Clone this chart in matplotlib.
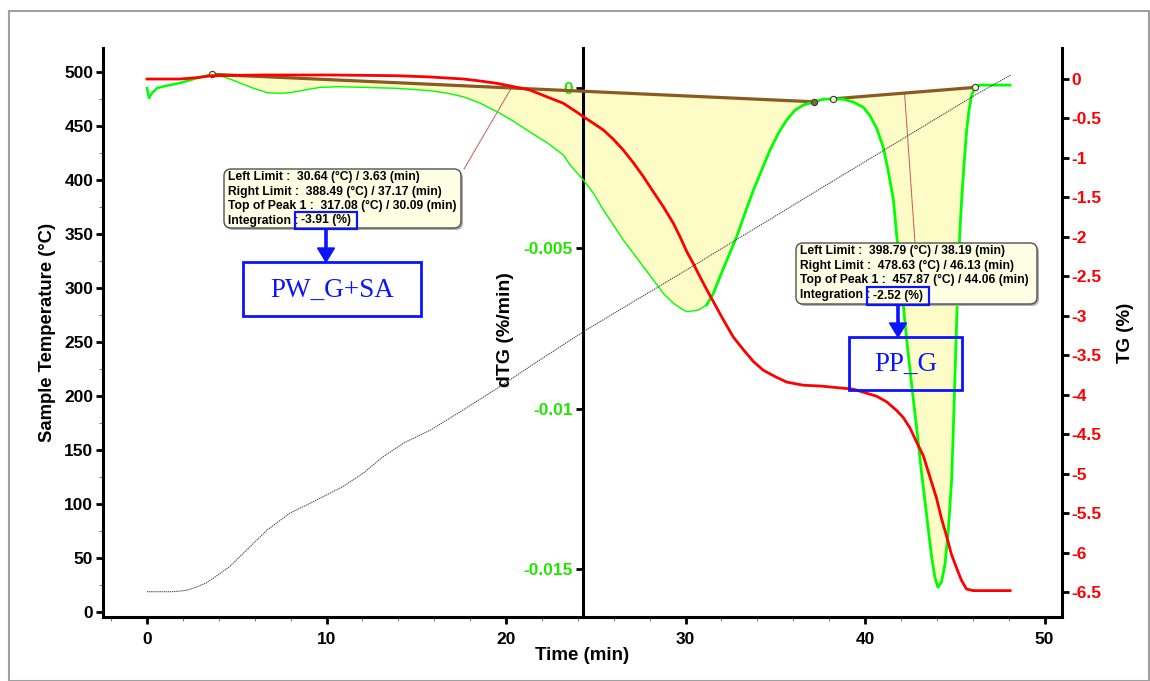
import matplotlib.pyplot as plt
import numpy as np
from matplotlib.patches import Rectangle, FancyBboxPatch, FancyArrow
from matplotlib.ticker import MultipleLocator, FuncFormatter

plt.rcParams['font.family'] = ['Liberation Sans', 'DejaVu Sans']
plt.rcParams['font.weight'] = 'bold'

# ---- data ----
time_temp = [0, 1.45, 2.2, 2.8, 3.3, 3.63, 4.1, 4.6, 5.55, 6.7, 7.97, 9.45, 10.9,
             12.05, 13.15, 14.3, 15.8, 17.6, 19.5, 21.3, 24.3, 30.09, 37.17, 38.19,
             44.06, 46.13, 48.1]
temp = [18.8, 18.8, 20, 23.4, 27, 30.64, 36, 42, 57.4, 76, 91.6, 103.7, 116,
        128.6, 143.8, 156.5, 168.5, 187, 207, 227, 259.5, 317.08, 388.49, 398.79,
        457.87, 478.63, 497]

time_tg = [0, 1.84, 2.77, 3.6, 6.48, 10.2, 13.9, 15.77, 17.63, 18.55, 19.48, 20.4,
           21.33, 22.26, 23.18, 23.92, 24.31, 24.87, 25.42, 25.98, 26.53, 27.09,
           27.65, 28.2, 28.76, 29.32, 29.69, 30.07, 30.43, 30.81, 31.18, 31.64, 32.1,
           32.66, 33.22, 33.78, 34.33, 34.98, 35.63, 36.56, 37.49, 39.35, 40.65,
           41.2, 41.76, 42.13, 42.5, 42.87, 43.24, 43.61, 43.98, 44.26, 44.54, 44.81,
           45.09, 45.37, 45.65, 46.02, 48.08]
tg = [-0.004, -0.004, 0.013, 0.038, 0.047, 0.047, 0.038, 0.022, -0.004, -0.029,
      -0.058, -0.10, -0.143, -0.228, -0.31, -0.42, -0.481, -0.565, -0.649, -0.767,
      -0.903, -1.063, -1.24, -1.43, -1.62, -1.83, -2.0, -2.19, -2.34, -2.51, -2.67,
      -2.86, -3.05, -3.27, -3.43, -3.58, -3.69, -3.77, -3.84, -3.88, -3.89, -3.93,
      -4.02, -4.09, -4.20, -4.29, -4.42, -4.60, -4.77, -5.04, -5.31, -5.57, -5.79,
      -6.02, -6.19, -6.35, -6.46, -6.48, -6.48]

time_dtg = [0, 0.11, 0.28, 0.56, 1.0, 1.84, 2.79, 3.2, 3.63, 4.07, 4.62, 5.18, 5.9,
            6.69, 7.4, 7.97, 8.8, 9.64, 10.75, 12.03, 13.93, 15.77, 16.7, 17.6,
            18.55, 19.5, 20.4, 21.3, 22.3, 23.2, 23.57, 24.31, 24.87, 25.42, 25.98,
            26.53, 27.09, 27.65, 28.2, 28.76, 29.32, 29.88, 30.09, 30.72, 31.18,
            31.55, 31.92, 32.38, 32.85, 33.31, 33.78, 34.24, 34.71, 35.17, 35.63,
            36.1, 36.56, 37.17, 37.68, 38.19, 38.79, 39.35, 39.9, 40.28, 40.65,
            41.02, 41.3, 41.58, 41.76, 41.95, 42.13, 42.32, 42.6, 42.87, 43.15,
            43.43, 43.71, 43.9, 44.06, 44.26, 44.45, 44.64, 44.82, 44.92, 45.01,
            45.1, 45.19, 45.29, 45.38, 45.51, 45.66, 45.8, 45.94, 46.13, 46.4, 48.08]
dtg = [0.0, -0.00031, -0.00016, 0.0, 0.00006, 0.000156, 0.00031, 0.00037, 0.000427,
       0.000383, 0.00028, 0.000156, 0.0, -0.000146, -0.000165, -0.000146, -0.00006,
       0.00002, 0.00004, 0.00002, -0.00001, -0.000084, -0.00016, -0.00027, -0.00047,
       -0.00074, -0.00103, -0.00136, -0.00171, -0.00209, -0.0024, -0.00287,
       -0.00328, -0.0038, -0.00427, -0.00474, -0.00515, -0.00557, -0.00598,
       -0.0064, -0.00671, -0.00692, -0.00697, -0.00692, -0.00676, -0.0064,
       -0.00588, -0.00526, -0.00463, -0.0039, -0.00318, -0.00256, -0.00193,
       -0.00141, -0.001, -0.00069, -0.00053, -0.00043, -0.00035, -0.00034,
       -0.00035, -0.00044, -0.0006, -0.00087, -0.00126, -0.00186, -0.00262,
       -0.00349, -0.00458, -0.00568, -0.00677, -0.00786, -0.00928, -0.01059,
       -0.01201, -0.01332, -0.01463, -0.01528, -0.01556, -0.01539, -0.01485,
       -0.01376, -0.01223, -0.01059, -0.00895, -0.00731, -0.00568, -0.00437,
       -0.00349, -0.0024, -0.00131, -0.00065, -0.00022, 0.00002, 0.00009, 0.00009]

peak_limits = [(3.63, 37.17), (38.19, 46.13)]
leader_times = [20.3, 42.2]
peak_names = ['PW_G+SA', 'PP_G']
peak_info = [
    ['Left Limit :  30.64 (°C) / 3.63 (min)',
     'Right Limit :  388.49 (°C) / 37.17 (min)',
     'Top of Peak 1 :  317.08 (°C) / 30.09 (min)',
     'Integration :'],
    ['Left Limit :  398.79 (°C) / 38.19 (min)',
     'Right Limit :  478.63 (°C) / 46.13 (min)',
     'Top of Peak 1 :  457.87 (°C) / 44.06 (min)',
     'Integration :'],
]
peak_integration = ['-3.91 (%)', '-2.52 (%)']

x_ticks = [0, 10, 20, 30, 40, 50]
temp_ticks = [0, 50, 100, 150, 200, 250, 300, 350, 400, 450, 500]
dtg_ticks = [0, -0.005, -0.01, -0.015]
dtg_labels = ['0', '-0.005', '-0.01', '-0.015']
tg_ticks = [0, -0.5, -1, -1.5, -2, -2.5, -3, -3.5, -4, -4.5, -5, -5.5, -6, -6.5]

GREEN = '#00ff00'
GREEN_TXT = '#22e600'
BROWN = '#8a5a22'
FILL = '#fefcc6'
BLUE = '#0a14ff'

W, H = 1150, 681
fig = plt.figure(figsize=(W / 100, H / 100), dpi=100)


def pin(x, y):
    # pixel (from top-left) -> inches for fig.dpi_scale_trans
    return x / 100, (H - y) / 100


# frame around the whole picture
fig.patches.append(Rectangle(pin(9, 681), (1149 - 9) / 100, (681 - 11) / 100,
                             transform=fig.dpi_scale_trans, fill=False,
                             ec='#a0a0a0', lw=1.5))

ax = fig.add_axes([103 / W, 1 - 617 / H, (1062 - 103) / W, (617 - 48) / H])
ax_dtg = ax.twinx()
ax_tg = ax.twinx()
ax_dtg.set_zorder(1)
ax.set_zorder(2)
ax.patch.set_visible(False)
ax_tg.set_zorder(3)

# ---- dTG with integrated peaks ----
t_d = np.array(time_dtg)
d_d = np.array(dtg)
for (lo, hi) in peak_limits:
    m = (t_d >= lo) & (t_d <= hi)
    d_lo = np.interp(lo, t_d, d_d)
    d_hi = np.interp(hi, t_d, d_d)
    base = np.interp(t_d[m], [lo, hi], [d_lo, d_hi])
    ax_dtg.fill_between(t_d[m], d_d[m], base, color=FILL, lw=0, zorder=1)
    ax_dtg.plot([lo, hi], [d_lo, d_hi], color=BROWN, lw=2.3, zorder=3,
                solid_capstyle='butt')

thin = (t_d >= 3.63) & (t_d <= 31.18)
ax_dtg.plot(t_d[t_d <= 3.63], d_d[t_d <= 3.63], color=GREEN, lw=1.8, zorder=4)
ax_dtg.plot(t_d[thin], d_d[thin], color=GREEN, lw=1.0, zorder=4)
ax_dtg.plot(t_d[t_d >= 31.18], d_d[t_d >= 31.18], color=GREEN, lw=2.0, zorder=4)

for i, tl in enumerate([3.63, 37.17, 38.19, 46.13]):
    ax_dtg.plot(tl, np.interp(tl, t_d, d_d), marker='o', ms=4.5,
                mfc='#7a6a40' if i == 1 else '#e8f0d0', mec='#404020', mew=0.8,
                zorder=6)

# ---- temperature ----
ax.plot(time_temp, temp, color='#404040', lw=0.75, ls=(0, (1.2, 0.8)), zorder=3)

# ---- TG ----
ax_tg.plot(time_tg, tg, color='#ff0000', lw=2.0, zorder=5)

# ---- axes ----
ax.set_xlim(-2.451, 50.97)
ax.set_ylim(-4.63, 522.2)
ax_dtg.set_ylim(-(617 - 88) / 32087, (88 - 48) / 32087)
ax_tg.set_ylim(-(617 - 78.7) / 79.0, (78.7 - 48) / 79.0)

for a in (ax, ax_dtg, ax_tg):
    for s in a.spines.values():
        s.set_visible(False)
ax.spines['left'].set_visible(True)
ax.spines['bottom'].set_visible(True)
ax_dtg.spines['left'].set_visible(True)
ax_dtg.spines['left'].set_position(('axes', 0.5))
ax_tg.spines['right'].set_visible(True)
for s in (ax.spines['left'], ax.spines['bottom'], ax_dtg.spines['left'],
          ax_tg.spines['right']):
    s.set_linewidth(2.2)

ax.set_xticks(x_ticks)
ax.xaxis.set_minor_locator(MultipleLocator(2))
ax.set_yticks(temp_ticks)
ax.yaxis.set_minor_locator(MultipleLocator(25))
ax.tick_params(axis='both', which='major', direction='out', length=5, width=2,
               labelsize=12.5, pad=2)
ax.tick_params(axis='x', which='major', pad=6)
ax.tick_params(axis='both', which='minor', direction='out', length=3, width=0.8,
               color='#808080')

ax_dtg.yaxis.set_ticks_position('left')
ax_dtg.yaxis.set_label_position('left')
ax_dtg.set_yticks(dtg_ticks)
ax_dtg.set_yticklabels(dtg_labels)
ax_dtg.tick_params(axis='y', direction='out', length=5, width=2, labelsize=12.5,
                   labelcolor=GREEN_TXT, pad=2)

ax_tg.set_yticks(tg_ticks)
ax_tg.yaxis.set_major_formatter(FuncFormatter(lambda v, p: '%g' % v))
ax_tg.tick_params(axis='y', direction='out', length=5, width=2, labelsize=12.5,
                  labelcolor='#ff0000', pad=2)

ax.set_xlabel('Time (min)', fontsize=13.5, fontweight='bold')
ax.xaxis.set_label_coords(0.5, -0.052)
ax.set_ylabel('Sample Temperature (°C)', fontsize=13.3, fontweight='bold')
ax.yaxis.set_label_coords((56 - 103) / 959, 0.5)
ax_dtg.set_ylabel('dTG (%/min)', fontsize=14, fontweight='bold')
ax_dtg.yaxis.set_label_coords((514 - 103) / 959, 0.505)
ax_tg.set_ylabel('TG (%)', fontsize=13.5, fontweight='bold', labelpad=11)

# ---- peak annotation boxes ----
info_boxes = [(224, 169, 461, 228), (796, 243, 1037, 304)]
int_boxes = [(295, 212, 357, 229), (867, 287, 929, 305)]
name_boxes = [(243, 262, 421, 316), (849, 337, 962, 390)]

for k in range(2):
    x0, y0, x1, y1 = info_boxes[k]
    # leader line from the box to the baseline
    lo, hi = peak_limits[k]
    d_lo = np.interp(lo, t_d, d_d)
    d_hi = np.interp(hi, t_d, d_d)
    tl = leader_times[k]
    start = (x1 + 3, H - y0) if k == 0 else (915, H - y0)
    ax_dtg.annotate('', xy=(tl, np.interp(tl, [lo, hi], [d_lo, d_hi])), xycoords='data',
                    xytext=start, textcoords='figure pixels',
                    arrowprops=dict(arrowstyle='-', ls=(0, (1, 1)), color='#c05050',
                                    lw=0.8, shrinkA=0, shrinkB=0), zorder=2)
    shadow = FancyBboxPatch(pin(x0 + 2, y1 + 2), (x1 - x0) / 100, (y1 - y0) / 100,
                            boxstyle='round,pad=0,rounding_size=0.07',
                            transform=fig.dpi_scale_trans, fc='#b0b0b0', ec='none',
                            zorder=9)
    box = FancyBboxPatch(pin(x0, y1), (x1 - x0) / 100, (y1 - y0) / 100,
                         boxstyle='round,pad=0,rounding_size=0.07',
                         transform=fig.dpi_scale_trans, fc='#fefee4', ec='#505050',
                         lw=1.0, zorder=10)
    fig.patches.extend([shadow, box])
    for j, line in enumerate(peak_info[k]):
        fig.text(*pin(x0 + 3.5, y0 + 8 + j * 14.6), line, transform=fig.dpi_scale_trans,
                 fontsize=8.7, fontweight='bold', va='center', ha='left', zorder=11)
    bx0, by0, bx1, by1 = int_boxes[k]
    fig.text(*pin((bx0 + bx1) / 2, (by0 + by1) / 2), peak_integration[k],
             transform=fig.dpi_scale_trans, fontsize=8.7, fontweight='bold',
             va='center', ha='center', zorder=11)
    fig.patches.append(Rectangle(pin(bx0, by1), (bx1 - bx0) / 100, (by1 - by0) / 100,
                                 transform=fig.dpi_scale_trans, fill=False, ec=BLUE,
                                 lw=1.6, zorder=12))
    xm = (bx0 + bx1) / 2
    ny0 = name_boxes[k][1]
    ax_len = (ny0 - by1) / 100
    fig.patches.append(FancyArrow(*pin(xm, by1), 0, -ax_len, width=0.022,
                                  head_width=0.17, head_length=0.14,
                                  length_includes_head=True, color=BLUE,
                                  transform=fig.dpi_scale_trans, zorder=12))
    nx0, ny0, nx1, ny1 = name_boxes[k]
    fig.patches.append(Rectangle(pin(nx0, ny1), (nx1 - nx0) / 100, (ny1 - ny0) / 100,
                                 transform=fig.dpi_scale_trans, fill=False, ec=BLUE,
                                 lw=2.0, zorder=12))
    fig.text(*pin((nx0 + nx1) / 2, (ny0 + ny1) / 2 + 1), peak_names[k],
             transform=fig.dpi_scale_trans, fontsize=19.5, fontweight='normal',
             family=['Liberation Serif', 'DejaVu Serif'], color=BLUE,
             ha='center', va='center', zorder=12)

fig.savefig('out.png', dpi=100)
